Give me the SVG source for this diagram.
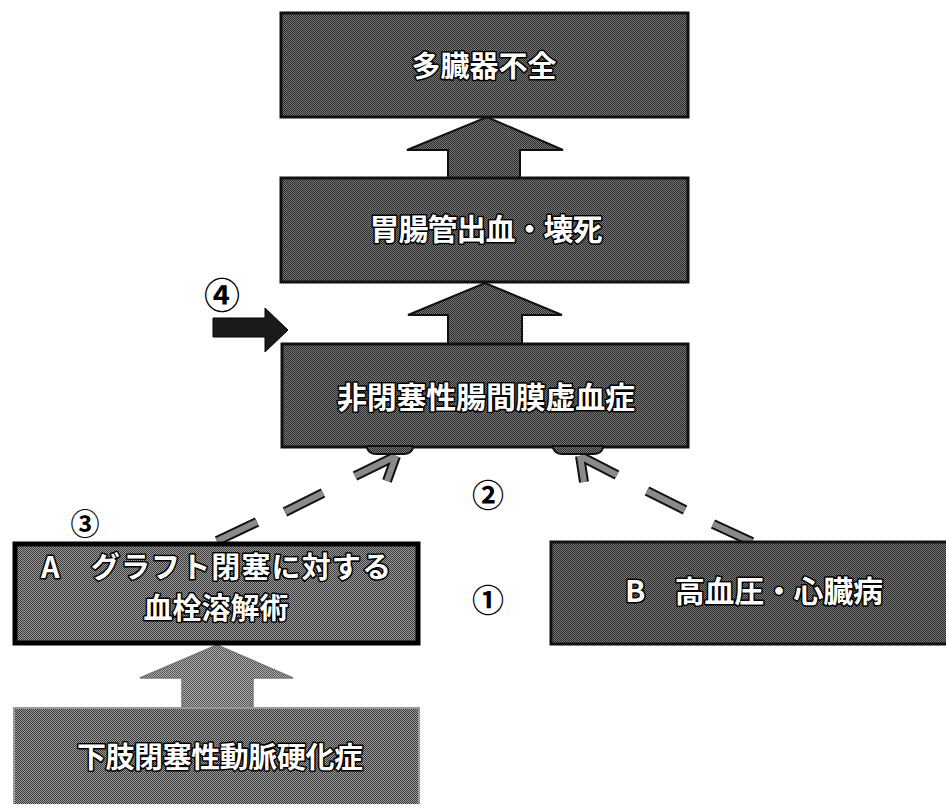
<svg xmlns="http://www.w3.org/2000/svg" width="946" height="804" viewBox="0 0 946 804">
<defs>
<pattern id="ht" width="2" height="2" patternUnits="userSpaceOnUse"><rect width="2" height="2" fill="#767676"/><rect width="1" height="1" fill="#2c2c2c"/><rect x="1" y="1" width="1" height="1" fill="#2c2c2c"/></pattern>
<pattern id="htl" width="2" height="2" patternUnits="userSpaceOnUse"><rect width="2" height="2" fill="#9a9a9a"/><rect width="1" height="1" fill="#3a3a3a"/><rect x="1" y="1" width="1" height="1" fill="#3a3a3a"/></pattern>
<pattern id="htx" width="2" height="2" patternUnits="userSpaceOnUse"><rect width="2" height="2" fill="#b0b0b0"/><rect width="1" height="1" fill="#505050"/><rect x="1" y="1" width="1" height="1" fill="#505050"/></pattern>
</defs>
<style>
.box{fill:url(#ht);stroke:#111;stroke-width:3}
.lab{font-family:"Noto Sans CJK JP","Noto Sans CJK SC",sans-serif;font-weight:bold;fill:#fff;stroke:#000;stroke-width:3;paint-order:stroke;stroke-linejoin:round;text-anchor:middle}
.num{font-family:"Noto Sans CJK JP","Noto Sans CJK SC",sans-serif;font-weight:bold;fill:#000;text-anchor:middle}
.dout{stroke:#111;stroke-width:10;fill:none;stroke-linecap:butt}
.din{stroke:#8a8a8a;stroke-width:6;fill:none;stroke-linecap:butt}
.uparrow{fill:url(#ht);stroke:#111;stroke-width:2;stroke-linejoin:miter}
</style>
<rect width="946" height="804" fill="#fff"/>

<g id="connectors">
  <polygon class="uparrow" points="448,178 448,150 407,150 487,117 563,150 520,150 520,178"/>
  <polygon class="uparrow" points="448,345 448,315 408,315 485,283 562,315 522,315 522,345"/>
  <polygon points="182,707 182,678 140,678 217,645 293,678 253,678 253,707" fill="url(#htx)" stroke="#777" stroke-width="1.5"/>
  <polygon points="213,318 265,318 265,308 288,330 265,352 265,337 213,337" fill="#1a1a1a" stroke="#000" stroke-width="1"/>
  <g>
    <path class="dout" d="M217,541 L257,522 M285,512 L323,493 M355,476 L396,456 M396,456 L387,481"/>
    <path class="din" d="M217,541 L257,522 M285,512 L323,493 M355,476 L396,456 M396,456 L387,481"/>
  </g>
  <g>
    <path class="dout" d="M580,456 L617,475 M647,491 L685,510 M713,524 L752,542 M580,456 L584,482"/>
    <path class="din" d="M580,456 L617,475 M647,491 L685,510 M713,524 L752,542 M580,456 L584,482"/>
  </g>
</g>

<g id="node-tazouki">
  <rect class="box" x="281" y="13" width="407" height="104"/>
  <text class="lab" x="484" y="77" font-size="29">多臓器不全</text>
</g>

<g id="node-ichou">
  <rect class="box" x="281" y="178" width="407" height="104"/>
  <text class="lab" x="486" y="240" font-size="30" textLength="233" lengthAdjust="spacing">胃腸管出血・壊死</text>
</g>

<g id="node-nomi">
  <rect class="box" x="282" y="344" width="406" height="103"/>
  <path d="M367,446 L367,448 Q369,454 376,454 L404,454 Q411,454 413,448 L413,446 Z" fill="url(#ht)" stroke="#111" stroke-width="2"/>
  <path d="M553,446 L553,448 Q555,454 562,454 L594,454 Q601,454 603,448 L603,446 Z" fill="url(#ht)" stroke="#111" stroke-width="2"/>
  <text class="lab" x="486" y="408" font-size="30" textLength="298" lengthAdjust="spacing">非閉塞性腸間膜虚血症</text>
</g>

<g id="node-a">
  <rect x="15" y="544" width="403" height="99" fill="url(#htl)" stroke="#000" stroke-width="5"/>
  <text class="lab" x="216" y="578" font-size="29" textLength="350" lengthAdjust="spacing">A　グラフト閉塞に対する</text>
  <text class="lab" x="216" y="619" font-size="29">血栓溶解術</text>
</g>

<g id="node-b">
  <rect class="box" x="551" y="542" width="400" height="102"/>
  <text class="lab" x="754" y="602" font-size="30" textLength="258" lengthAdjust="spacing">B　高血圧・心臓病</text>
</g>

<g id="node-kashi">
  <rect x="14" y="708" width="405" height="100" fill="url(#htl)" stroke="#999" stroke-width="2"/>
  <text class="lab" x="220" y="768" font-size="29" textLength="286" lengthAdjust="spacing">下肢閉塞性動脈硬化症</text>
</g>

<g id="labels">
  <text class="num" x="222" y="309" font-size="36">④</text>
  <text class="num" x="85" y="535" font-size="29">③</text>
  <text class="num" x="488" y="507" font-size="32">②</text>
  <text class="num" x="488" y="612" font-size="32">①</text>
</g>
</svg>
